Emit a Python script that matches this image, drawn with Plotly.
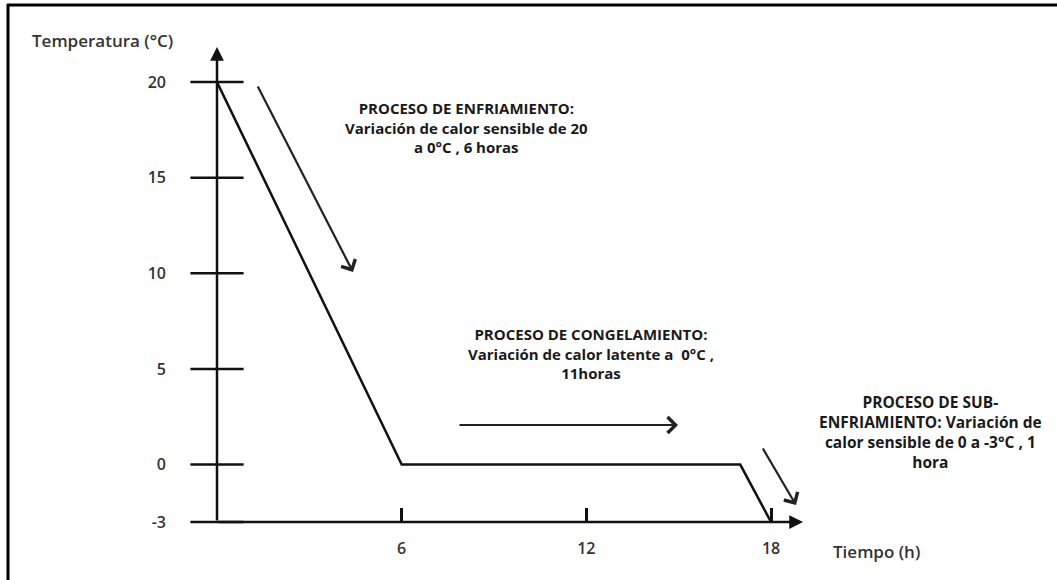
import plotly.graph_objects as go

# ---- data ----
time_h = [0, 6, 17, 18]
temp_c = [20, 0, 0, -3]
y_ticks = [20, 15, 10, 5, 0, -3]
y_tick_labels = ["20", "15", "10", "5", "0", "-3"]
x_ticks = [6, 12, 18]
x_tick_labels = ["6", "12", "18"]

W, H = 1057, 580
ML, MR, MT, MB = 217, 17, 30, 58
PLOT_W = W - ML - MR
PLOT_H = H - MT - MB
PX_PER_X = 30.78
PX_PER_Y = 19.13
X0_PX, Y20_PX = 217, 82
x_max = PLOT_W / PX_PER_X
y_max = -3 + PLOT_H / PX_PER_Y


def dx(px):
    return (px - X0_PX) / PX_PER_X


def dy(py):
    return 20 - (py - Y20_PX) / PX_PER_Y


def paper_x(px):
    return (px - ML) / PLOT_W


def paper_y(py):
    return (H - MB - py) / PLOT_H


FONT = "Open Sans"
INK = "#111111"
fig = go.Figure()

fig.add_trace(go.Scatter(
    x=time_h, y=temp_c, mode="lines",
    line=dict(color=INK, width=2.5),
    cliponaxis=False, showlegend=False, hoverinfo="skip",
))

# crossing tick marks on the vertical axis
fig.add_trace(go.Scatter(
    x=[0] * len(y_ticks), y=y_ticks, mode="markers",
    marker=dict(symbol="line-ew", size=38,
                line=dict(color=INK, width=2.5)),
    cliponaxis=False, showlegend=False, hoverinfo="skip",
))

tickfont = dict(family=FONT, size=16, color="#333333", weight=600)
fig.update_xaxes(
    range=[0, x_max], showgrid=False, zeroline=False, showline=False,
    tickvals=x_ticks, ticktext=x_tick_labels,
    ticks="inside", ticklen=14, tickwidth=2.5, tickcolor=INK,
    ticklabelstandoff=15, tickfont=tickfont,
)
fig.update_yaxes(
    range=[-3, y_max], showgrid=False, zeroline=False, showline=False,
    tickvals=y_ticks, ticktext=y_tick_labels, ticks="",
    ticklabelstandoff=50, tickfont=tickfont,
)

ann = []
# axis arrows
ann.append(dict(x=dx(803), y=-3, ax=0, ay=-3, xref="x", yref="y",
                axref="x", ayref="y", showarrow=True, arrowhead=2,
                arrowsize=1.1, arrowwidth=2.5, arrowcolor=INK,
                standoff=0, startstandoff=0, text=""))
ann.append(dict(x=0, y=dy(47), ax=0, ay=-3, xref="x", yref="y",
                axref="x", ayref="y", showarrow=True, arrowhead=2,
                arrowsize=1.1, arrowwidth=2.5, arrowcolor=INK,
                standoff=0, startstandoff=0, text=""))
# process arrows
for (tx, ty, hx, hy) in [(257, 85, 353, 272), (458, 425, 678, 425),
                         (762, 447, 796, 505)]:
    ann.append(dict(x=dx(hx), y=dy(hy), ax=dx(tx), ay=dy(ty),
                    xref="x", yref="y", axref="x", ayref="y",
                    showarrow=True, arrowhead=4, arrowsize=1.4,
                    arrowwidth=2.2, arrowcolor="#222222", standoff=0,
                    text=""))

texts = [
    ("PROCESO DE ENFRIAMIENTO:<br>Variación de calor sensible de 20<br>a 0°C , 6 horas", 466, 127, 15),
    ("PROCESO DE CONGELAMIENTO:<br>Variación de calor latente a  0°C ,<br>11horas", 591, 353, 15),
    ("PROCESO DE SUB-<br>ENFRIAMIENTO: Variación de<br>calor sensible de 0 a -3°C , 1<br>hora", 930, 432, 15.5),
]
for t, px, py, fs in texts:
    ann.append(dict(x=paper_x(px), y=paper_y(py), xref="paper", yref="paper",
                    xanchor="center", yanchor="middle",
                    text=t, showarrow=False, align="center",
                    font=dict(family=FONT, size=fs, color="#1a1a1a", weight=700)))

title_font = dict(family=FONT, size=17, color="#333333", weight=600)
ann.append(dict(x=paper_x(102), y=paper_y(40), xref="paper", yref="paper",
                xanchor="center", yanchor="middle",
                text="Temperatura (°C)", showarrow=False, font=title_font))
ann.append(dict(x=paper_x(876), y=paper_y(551), xref="paper", yref="paper",
                xanchor="center", yanchor="middle",
                text="Tiempo (h)", showarrow=False, font=title_font))

# frame lines (top and left)
shapes = [
    dict(type="line", xref="paper", yref="paper",
         x0=paper_x(7), x1=paper_x(1060),
         y0=paper_y(5), y1=paper_y(5),
         line=dict(color="#000000", width=3)),
    dict(type="line", xref="paper", yref="paper",
         x0=paper_x(8), x1=paper_x(8),
         y0=paper_y(4), y1=paper_y(585),
         line=dict(color="#000000", width=3)),
]

fig.update_layout(
    width=W, height=H,
    margin=dict(l=ML, r=MR, t=MT, b=MB),
    paper_bgcolor="white", plot_bgcolor="white",
    annotations=ann, shapes=shapes, showlegend=False,
    font=dict(family=FONT),
)

fig.write_html(
    "out.html",
    config={"displayModeBar": False},
    post_script="document.body.style.margin='0';document.body.style.overflow='hidden';",
)
